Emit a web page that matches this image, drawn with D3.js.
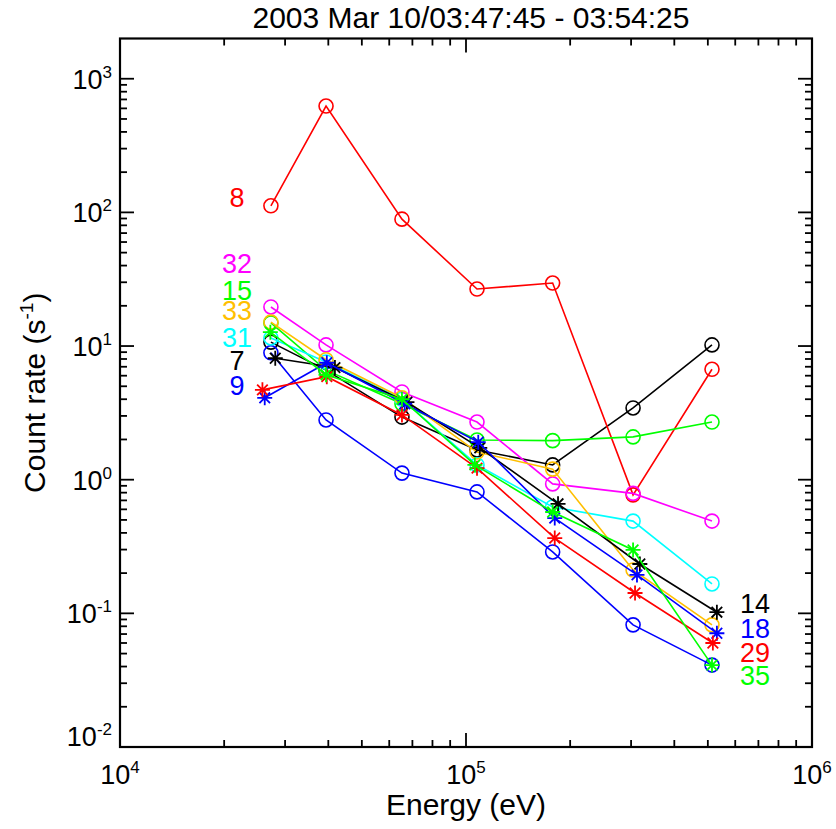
<!DOCTYPE html>
<html>
<head>
<meta charset="utf-8">
<script src="https://cdn.jsdelivr.net/npm/d3@7"></script>
<style>
  body { margin: 0; background: #fff; }
  svg { display: block; font-family: "Liberation Sans", Arial, sans-serif; }
</style>
</head>
<body>
<div id="chart"></div>
<script>
// ---------- data ----------
const title = "2003 Mar 10/03:47:45 - 03:54:25";
const xLabel = "Energy (eV)";
const yLabel = "Count rate (s";
const yLabelExp = "-1";

// energies (eV)
const energyCircle = [27300, 39400, 65300, 107600, 178000, 304000, 514000];
const energyStar14 = [28100, 41800, 67500, 109600, 184500, 318000, 531000];
const energyStar18 = [26200, 39600, 66500, 108500, 180500, 312000, 531000];
const energyStar29 = [25800, 39600, 65300, 107600, 180500, 308000, 517000];
const energyStar35 = [27200, 39400, 65300, 106100, 178000, 304000, 514000];

// count rates (s^-1)
const rate7  = [10.7, 6.6, 2.94, 1.67, 1.29, 3.44, 10.2];
const rate8  = [112, 625, 89, 26.7, 29.6, 0.77, 6.7];
const rate9  = [8.9, 2.8, 1.12, 0.81, 0.288, 0.082, 0.041];
const rate15 = [14.9, 6.6, 3.7, 1.98, 1.96, 2.09, 2.7];
const rate31 = [11.5, 7.6, 4.0, 1.29, 0.625, 0.49, 0.166];
const rate32 = [19.6, 10.2, 4.53, 2.70, 0.93, 0.79, 0.49];
const rate33 = [15.1, 7.9, 4.1, 1.61, 1.20, 0.211, 0.082];
const rate14 = [8.1, 6.9, 3.8, 1.73, 0.66, 0.234, 0.102];
const rate18 = [4.1, 7.5, 3.7, 1.91, 0.516, 0.194, 0.071];
const rate29 = [4.7, 5.9, 3.05, 1.22, 0.366, 0.142, 0.060];
const rate35 = [12.7, 6.1, 4.0, 1.29, 0.573, 0.298, 0.041];

const seriesNames   = ["7", "8", "9", "15", "31", "32", "33", "14", "18", "29", "35"];
const seriesColors  = ["#000000", "#ff0000", "#0000ff", "#00ff00", "#00ffff", "#ff00ff", "#ffbf00",
                       "#000000", "#0000ff", "#ff0000", "#00ff00"];
const seriesSymbols = ["circle", "circle", "circle", "circle", "circle", "circle", "circle",
                       "star", "star", "star", "star"];
const seriesEnergy  = [energyCircle, energyCircle, energyCircle, energyCircle, energyCircle, energyCircle, energyCircle,
                       energyStar14, energyStar18, energyStar29, energyStar35];
const seriesRates   = [rate7, rate8, rate9, rate15, rate31, rate32, rate33, rate14, rate18, rate29, rate35];

// label anchors (data space)
const labelEnergy = [21800, 21800, 21800, 21800, 21800, 21800, 21800, 684000, 684000, 684000, 684000];
const labelRate   = [7.9, 130, 5.1, 26.3, 11.7, 41.8, 18.6, 0.119, 0.0776, 0.0514, 0.0346];

const xDomain = [1e4, 1e6];
const yDomain = [0.01, 2000];
const xMajorTicks = [1e4, 1e5, 1e6];
const yMajorTicks = [1e-2, 1e-1, 1e0, 1e1, 1e2, 1e3];

// ---------- layout ----------
const W = 836, H = 829;
const L = 120, R = 812, T = 38.5, B = 747;

const svg = d3.select("#chart").append("svg").attr("width", W).attr("height", H);

const x = d3.scaleLog().domain(xDomain).range([L, R]);
const y = d3.scaleLog().domain(yDomain).range([B, T]);

function minorTicks(domain) {
  const out = [];
  const lo = Math.floor(Math.log10(domain[0])), hi = Math.ceil(Math.log10(domain[1]));
  for (let e = lo; e < hi; e++) {
    for (let k = 2; k <= 9; k++) {
      const v = k * Math.pow(10, e);
      if (v > domain[0] && v < domain[1]) out.push(v);
    }
  }
  return out;
}

const axisG = svg.append("g").attr("stroke", "#000").attr("stroke-width", 1.8);
const majLen = 14, minLen = 7;

xMajorTicks.forEach(v => {
  axisG.append("line").attr("x1", x(v)).attr("x2", x(v)).attr("y1", B).attr("y2", B - majLen);
  axisG.append("line").attr("x1", x(v)).attr("x2", x(v)).attr("y1", T).attr("y2", T + majLen);
});
minorTicks(xDomain).forEach(v => {
  axisG.append("line").attr("x1", x(v)).attr("x2", x(v)).attr("y1", B).attr("y2", B - minLen);
  axisG.append("line").attr("x1", x(v)).attr("x2", x(v)).attr("y1", T).attr("y2", T + minLen);
});
yMajorTicks.forEach(v => {
  axisG.append("line").attr("y1", y(v)).attr("y2", y(v)).attr("x1", L).attr("x2", L + majLen);
  axisG.append("line").attr("y1", y(v)).attr("y2", y(v)).attr("x1", R).attr("x2", R - majLen);
});
minorTicks(yDomain).forEach(v => {
  axisG.append("line").attr("y1", y(v)).attr("y2", y(v)).attr("x1", L).attr("x2", L + minLen);
  axisG.append("line").attr("y1", y(v)).attr("y2", y(v)).attr("x1", R).attr("x2", R - minLen);
});

svg.append("rect").attr("x", L).attr("y", T).attr("width", R - L).attr("height", B - T)
  .attr("fill", "none").attr("stroke", "#000").attr("stroke-width", 2.2);

// tick labels
const fs = 27, fsExp = 17;
function powLabel(sel, v) {
  const e = Math.round(Math.log10(v));
  sel.append("tspan").text("10");
  sel.append("tspan").attr("dy", -11).attr("font-size", fsExp).text(String(e));
}
xMajorTicks.forEach(v => {
  const t = svg.append("text").attr("x", x(v)).attr("y", 784).attr("text-anchor", "middle")
    .attr("font-size", fs).attr("fill", "#000");
  powLabel(t, v);
});
yMajorTicks.forEach((v, i) => {
  const yy = y(v) + 10 - (i === 0 ? 11 : 0);
  const t = svg.append("text").attr("x", 112).attr("y", yy).attr("text-anchor", "end")
    .attr("font-size", fs).attr("fill", "#000");
  powLabel(t, v);
});

// title & axis labels
svg.append("text").attr("x", (L + R) / 2 + 5).attr("y", 28).attr("text-anchor", "middle")
  .attr("font-size", 30).attr("fill", "#000").text(title);
svg.append("text").attr("x", (L + R) / 2).attr("y", 815).attr("text-anchor", "middle")
  .attr("font-size", 30).attr("fill", "#000").text(xLabel);
const yl = svg.append("text").attr("transform", `translate(45,${(T + B) / 2}) rotate(-90)`)
  .attr("text-anchor", "middle").attr("font-size", 30).attr("fill", "#000");
yl.append("tspan").text(yLabel);
yl.append("tspan").attr("dy", -12).attr("font-size", 19).text(yLabelExp);
yl.append("tspan").attr("dy", 12).text(")");

// ---------- series ----------
const line = d3.line().x(d => x(d[0])).y(d => y(d[1]));
const dataG = svg.append("g");
const rC = 7, rS = 7.5;
seriesNames.forEach((name, i) => {
  const pts = seriesEnergy[i].map((e, j) => [e, seriesRates[i][j]]);
  const g = dataG.append("g");
  g.append("path").attr("d", line(pts)).attr("fill", "none")
    .attr("stroke", seriesColors[i]).attr("stroke-width", 1.6);
  pts.forEach(p => {
    const cx = x(p[0]), cy = y(p[1]);
    if (seriesSymbols[i] === "circle") {
      g.append("circle").attr("cx", cx).attr("cy", cy).attr("r", rC)
        .attr("fill", "none").attr("stroke", seriesColors[i]).attr("stroke-width", 1.6);
    } else {
      const d = rS * Math.SQRT1_2;
      const path = `M${cx - rS},${cy}L${cx + rS},${cy}M${cx},${cy - rS}L${cx},${cy + rS}` +
        `M${cx - d},${cy - d}L${cx + d},${cy + d}M${cx - d},${cy + d}L${cx + d},${cy - d}`;
      g.append("path").attr("d", path).attr("stroke", seriesColors[i]).attr("stroke-width", 1.8)
        .attr("fill", "none");
    }
  });
  svg.append("text").attr("x", x(labelEnergy[i])).attr("y", y(labelRate[i]) + 10)
    .attr("text-anchor", "middle").attr("font-size", 27).attr("fill", seriesColors[i]).text(name);
});
</script>
</body>
</html>
